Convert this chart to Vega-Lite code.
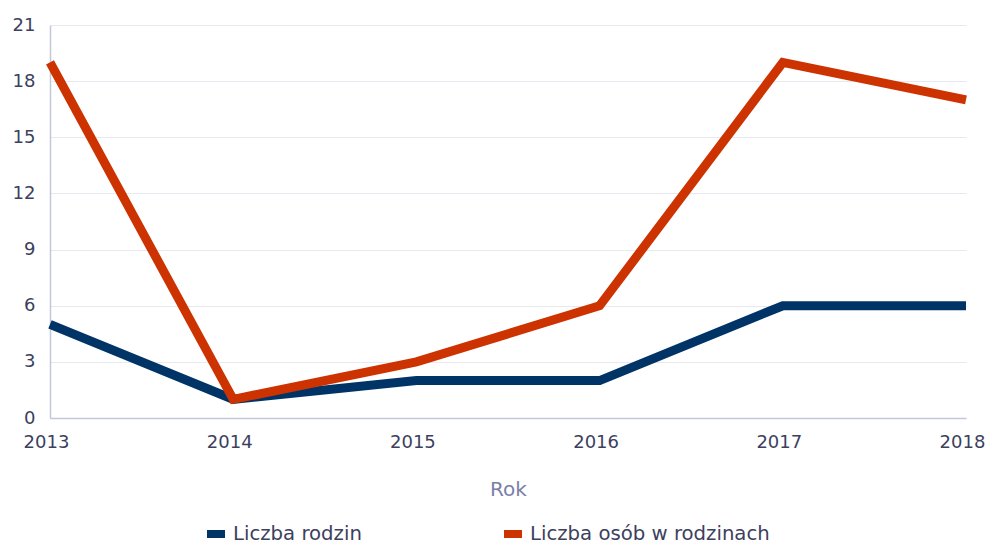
{
  "$schema": "https://vega.github.io/schema/vega-lite/v6.json",
  "width": 916,
  "height": 393,
  "autosize": "none",
  "padding": {"left": 50, "top": 25, "right": 23, "bottom": 128},
  "background": "white",
  "config": {
    "view": {"stroke": null},
    "font": "DejaVu Sans"
  },
  "data": {
    "values": [
      {"rok": "2013", "seria": "Liczba rodzin", "wartosc": 5},
      {"rok": "2014", "seria": "Liczba rodzin", "wartosc": 1},
      {"rok": "2015", "seria": "Liczba rodzin", "wartosc": 2},
      {"rok": "2016", "seria": "Liczba rodzin", "wartosc": 2},
      {"rok": "2017", "seria": "Liczba rodzin", "wartosc": 6},
      {"rok": "2018", "seria": "Liczba rodzin", "wartosc": 6},
      {"rok": "2013", "seria": "Liczba osób w rodzinach", "wartosc": 19},
      {"rok": "2014", "seria": "Liczba osób w rodzinach", "wartosc": 1},
      {"rok": "2015", "seria": "Liczba osób w rodzinach", "wartosc": 3},
      {"rok": "2016", "seria": "Liczba osób w rodzinach", "wartosc": 6},
      {"rok": "2017", "seria": "Liczba osób w rodzinach", "wartosc": 19},
      {"rok": "2018", "seria": "Liczba osób w rodzinach", "wartosc": 17}
    ]
  },
  "mark": {"type": "line", "strokeWidth": 9, "strokeJoin": "miter", "strokeCap": "butt"},
  "encoding": {
    "x": {
      "field": "rok",
      "type": "ordinal",
      "scale": {"type": "point", "padding": 0},
      "axis": {
        "title": "Rok",
        "titleFont": "DejaVu Sans",
        "titleFontSize": 20,
        "titleFontWeight": "normal",
        "titleColor": "#7a7fa6",
        "titlePadding": 28,
        "labelAngle": 0,
        "labelFontSize": 18,
        "labelColor": "#3c3f5e",
        "labelPadding": 15,
        "labelOffset": -4,
        "ticks": false,
        "domainColor": "#c3c7d9",
        "domainWidth": 1.5,
        "grid": false
      }
    },
    "y": {
      "field": "wartosc",
      "type": "quantitative",
      "scale": {"domain": [0, 21], "nice": false},
      "axis": {
        "title": null,
        "values": [0, 3, 6, 9, 12, 15, 18, 21],
        "labelFontSize": 18,
        "labelColor": "#3c3f5e",
        "labelPadding": 15,
        "ticks": false,
        "domainColor": "#c3c7d9",
        "domainWidth": 1.5,
        "gridColor": "#e8e8f0",
        "gridWidth": 1.2
      }
    },
    "color": {
      "field": "seria",
      "type": "nominal",
      "sort": ["Liczba rodzin", "Liczba osób w rodzinach"],
      "scale": {"domain": ["Liczba rodzin", "Liczba osób w rodzinach"], "range": ["#003366", "#cc3300"]},
      "legend": {
        "title": null,
        "orient": "none",
        "legendX": 153,
        "legendY": 496,
        "direction": "horizontal",
        "symbolType": "M-1,0H1",
        "symbolSize": 324,
        "symbolStrokeWidth": 8,
        "symbolOpacity": 1,
        "labelFont": "DejaVu Sans",
        "labelFontSize": 19.7,
        "labelColor": "#3c3f5e",
        "labelOffset": 4,
        "columnPadding": 126,
        "labelLimit": 400
      }
    }
  }
}
